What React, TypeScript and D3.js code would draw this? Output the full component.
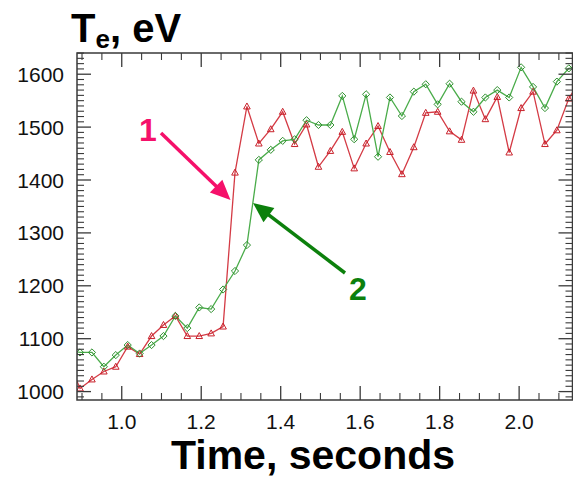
import React from "react";
import * as d3 from "d3";

// ---- data ----
const times = [
  0.865, 0.895, 0.925, 0.955, 0.985, 1.015, 1.045, 1.075, 1.105, 1.135, 1.165,
  1.195, 1.225, 1.255, 1.285, 1.315, 1.345, 1.375, 1.405, 1.435, 1.465, 1.495,
  1.525, 1.555, 1.585, 1.615, 1.645, 1.675, 1.705, 1.735, 1.765, 1.795, 1.825,
  1.855, 1.885, 1.915, 1.945, 1.975, 2.005, 2.035, 2.065, 2.095, 2.125, 2.155,
];
const series1 = [
  1060, 1006, 1023, 1038, 1047, 1085, 1071, 1105, 1126, 1143, 1105, 1105, 1110,
  1123, 1414, 1539, 1469, 1496, 1529, 1468, 1505, 1425, 1455, 1491, 1422, 1469,
  1502, 1453, 1411, 1462, 1527, 1529, 1492, 1476, 1569, 1515, 1557, 1452, 1536,
  1567, 1468, 1494, 1554, 1590,
];
const series2 = [
  1078, 1074, 1074, 1047, 1069, 1088, 1072, 1088, 1105, 1143, 1120, 1159, 1156,
  1193, 1228, 1277, 1438, 1457, 1474, 1477, 1513, 1504, 1504, 1559, 1477, 1562,
  1444, 1556, 1521, 1567, 1581, 1543, 1582, 1548, 1529, 1556, 1570, 1556, 1613,
  1576, 1536, 1586, 1611, 1615,
];
const xTickValues = [1.0, 1.2, 1.4, 1.6, 1.8, 2.0];
const xTickLabels = ["1.0", "1.2", "1.4", "1.6", "1.8", "2.0"];
const yTickValues = [1000, 1100, 1200, 1300, 1400, 1500, 1600];
const yTickLabels = ["1000", "1100", "1200", "1300", "1400", "1500", "1600"];
const xDomain = [0.8874, 2.1343];
const yDomain = [984.1, 1640.1];

// ---- layout ----
const W = 573;
const H = 482;
const L = 77;
const R = 572.5;
const T = 53;
const B = 400;

export default function App() {
  const x = d3.scaleLinear().domain(xDomain).range([L, R]);
  const y = d3.scaleLinear().domain(yDomain).range([B, T]);

  const xMinor = d3.range(0.9, 2.13, 0.05).filter(
    (v) => !xTickValues.some((m) => Math.abs(m - v) < 1e-6)
  );
  const yMinor = d3.range(990, 1641, 10).filter((v) => v % 100 !== 0);

  const line1 = d3
    .line<number>()
    .x((_, i) => x(times[i]))
    .y((d) => y(d));

  const redLine = "#d43b45";
  const redMark = "#c8202a";
  const greenLine = "#4aac4a";
  const greenMark = "#2e8f2e";
  const axisColor = "#3a3a3a";
  const pink = "#f5106a";
  const dkGreen = "#0c800c";

  const majLen = 14;
  const minLen = 7;

  const arrow = (x1: number, y1: number, x2: number, y2: number, color: string) => {
    const ang = Math.atan2(y2 - y1, x2 - x1);
    const hl = 20;
    const hw = 9;
    const bx = x2 - hl * Math.cos(ang);
    const by = y2 - hl * Math.sin(ang);
    const px = -Math.sin(ang) * hw;
    const py = Math.cos(ang) * hw;
    return (
      <g>
        <line x1={x1} y1={y1} x2={bx + Math.cos(ang) * 2} y2={by + Math.sin(ang) * 2} stroke={color} strokeWidth={3.5} />
        <polygon points={`${x2},${y2} ${bx + px},${by + py} ${bx - px},${by - py}`} fill={color} />
      </g>
    );
  };

  return (
    <svg width={W} height={H} style={{ position: "absolute", left: 0, top: 0, background: "#fff" }} fontFamily="'Liberation Sans', Arial, Helvetica, sans-serif">
      <defs>
        <clipPath id="plotclip">
          <rect x={L} y={T} width={R - L} height={B - T} />
        </clipPath>
      </defs>
      <rect x={0} y={0} width={W} height={H} fill="#fff" />

      {/* data */}
      <g clipPath="url(#plotclip)">
        <path d={line1(series1) || ""} fill="none" stroke={redLine} strokeWidth={1.3} />
        <path d={line1(series2) || ""} fill="none" stroke={greenLine} strokeWidth={1.3} />
        {series1.map((v, i) => {
          const cx = x(times[i]);
          const cy = y(v);
          return (
            <polygon key={"r" + i} points={`${cx},${cy - 3.5} ${cx - 3.3},${cy + 2.5} ${cx + 3.3},${cy + 2.5}`} fill="none" stroke={redMark} strokeWidth={1} />
          );
        })}
        {series2.map((v, i) => {
          const cx = x(times[i]);
          const cy = y(v);
          return (
            <polygon key={"g" + i} points={`${cx},${cy - 3.6} ${cx + 3.6},${cy} ${cx},${cy + 3.6} ${cx - 3.6},${cy}`} fill="none" stroke={greenMark} strokeWidth={1} />
          );
        })}
      </g>

      {/* frame */}
      <rect x={L} y={T} width={R - L} height={B - T} fill="none" stroke={axisColor} strokeWidth={1.5} />

      {/* x ticks */}
      {xTickValues.map((v) => (
        <g key={"xm" + v}>
          <line x1={x(v)} x2={x(v)} y1={B} y2={B - majLen} stroke={axisColor} strokeWidth={1.3} />
          <line x1={x(v)} x2={x(v)} y1={T} y2={T + majLen} stroke={axisColor} strokeWidth={1.3} />
        </g>
      ))}
      {xMinor.map((v) => (
        <g key={"xn" + v}>
          <line x1={x(v)} x2={x(v)} y1={B} y2={B - minLen} stroke={axisColor} strokeWidth={1.1} />
          <line x1={x(v)} x2={x(v)} y1={T} y2={T + minLen} stroke={axisColor} strokeWidth={1.1} />
        </g>
      ))}
      {xTickValues.map((v, i) => (
        <text key={"xl" + v} x={x(v)} y={429} textAnchor="middle" fontSize={21} fill="#111">
          {xTickLabels[i]}
        </text>
      ))}

      {/* y ticks */}
      {yTickValues.map((v) => (
        <g key={"ym" + v}>
          <line x1={L} x2={L + majLen} y1={y(v)} y2={y(v)} stroke={axisColor} strokeWidth={1.3} />
          <line x1={R} x2={R - majLen} y1={y(v)} y2={y(v)} stroke={axisColor} strokeWidth={1.3} />
        </g>
      ))}
      {yMinor.map((v) => (
        <g key={"yn" + v}>
          <line x1={L} x2={L + minLen} y1={y(v)} y2={y(v)} stroke={axisColor} strokeWidth={1.1} />
          <line x1={R} x2={R - minLen} y1={y(v)} y2={y(v)} stroke={axisColor} strokeWidth={1.1} />
        </g>
      ))}
      {yTickValues.map((v, i) => (
        <text key={"yl" + v} x={64} y={y(v)} dy="0.36em" textAnchor="end" fontSize={21} fill="#111">
          {yTickLabels[i]}
        </text>
      ))}

      {/* titles */}
      <text x={71} y={41.5} fontSize={40} fontWeight="bold" fill="#000">
        T<tspan fontSize={26} dy={6}>e</tspan>
        <tspan dy={-6}>, eV</tspan>
      </text>
      <text x={313} y={469} textAnchor="middle" fontSize={41} fontWeight="bold" fill="#000">
        Time, seconds
      </text>

      {/* annotations */}
      {arrow(161, 133, 230.5, 200, pink)}
      <text x={148} y={141} textAnchor="middle" fontSize={32} fontWeight="bold" fill={pink}>1</text>
      {arrow(345, 273, 253, 203, dkGreen)}
      <text x={358} y={300} textAnchor="middle" fontSize={32} fontWeight="bold" fill={dkGreen}>2</text>
    </svg>
  );
}
